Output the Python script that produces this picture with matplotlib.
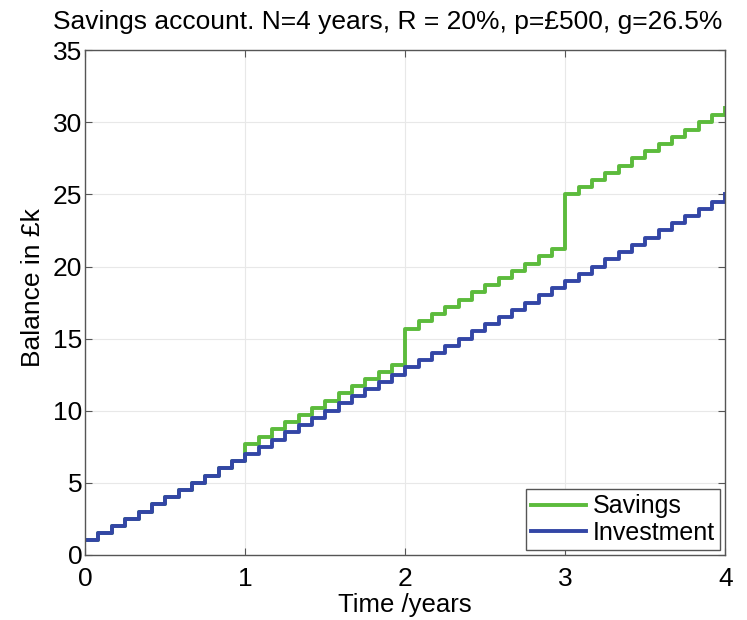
import numpy as np
import matplotlib.pyplot as plt

plt.rcParams['font.family'] = ['Liberation Sans', 'DejaVu Sans']

# monthly balances in £k, months 0..48
meses = list(range(49))
inversion = [1.0, 1.5, 2.0, 2.5, 3.0, 3.5, 4.0, 4.5, 5.0, 5.5, 6.0, 6.5,
             7.0, 7.5, 8.0, 8.5, 9.0, 9.5, 10.0, 10.5, 11.0, 11.5, 12.0, 12.5,
             13.0, 13.5, 14.0, 14.5, 15.0, 15.5, 16.0, 16.5, 17.0, 17.5, 18.0, 18.5,
             19.0, 19.5, 20.0, 20.5, 21.0, 21.5, 22.0, 22.5, 23.0, 23.5, 24.0, 24.5,
             25.0]
ahorro = [1.0, 1.5, 2.0, 2.5, 3.0, 3.5, 4.0, 4.5, 5.0, 5.5, 6.0, 6.5,
          7.7, 8.2, 8.7, 9.2, 9.7, 10.2, 10.7, 11.2, 11.7, 12.2, 12.7, 13.2,
          15.7, 16.2, 16.7, 17.2, 17.7, 18.2, 18.7, 19.2, 19.7, 20.2, 20.7, 21.2,
          25.0, 25.5, 26.0, 26.5, 27.0, 27.5, 28.0, 28.5, 29.0, 29.5, 30.0, 30.5,
          31.0]

t = np.array(meses) / 12.0

fig = plt.figure(figsize=(7.47, 6.2), dpi=100)
ax = fig.add_axes([0.114, 0.105, 0.857, 0.814])

ax.step(t, ahorro, where='post', color='#5cbb3c', linewidth=2.8, label='Savings')
ax.step(t, inversion, where='post', color='#3346a6', linewidth=2.8, label='Investment')

# Configuración de ejes y cuadrícula
ax.set_xlim(0, 4)
ax.set_ylim(0, 35)
ax.set_xticks(np.arange(0, 5, 1))
ax.set_yticks(np.arange(0, 36, 5))
ax.grid(True, color='#e8e8e8', linewidth=0.8)
ax.tick_params(axis='both', direction='in', labelsize=19, length=5, color='#555555',
               top=True, right=True)
ax.tick_params(axis='x', pad=9)
ax.tick_params(axis='y', pad=2)
for s in ax.spines.values():
    s.set_color('#555555')
    s.set_linewidth(1.0)

ax.set_xlabel('Time /years', fontsize=18.5, labelpad=1)
ax.set_ylabel('Balance in £k', fontsize=19)
ax.yaxis.set_label_coords(-0.062, 0.53)
ax.set_title('Savings account. N=4 years, R = 20%, p=£500, g=26.5%', fontsize=19,
             x=0.473, pad=15)

leg = ax.legend(loc='lower right', fontsize=18, fancybox=False, framealpha=1,
                edgecolor='#555555', borderaxespad=0.2, handlelength=2.2,
                handletextpad=0.3, borderpad=0.2, labelspacing=0.1)
leg.get_frame().set_linewidth(1.0)

fig.savefig('out.png', dpi=100)
